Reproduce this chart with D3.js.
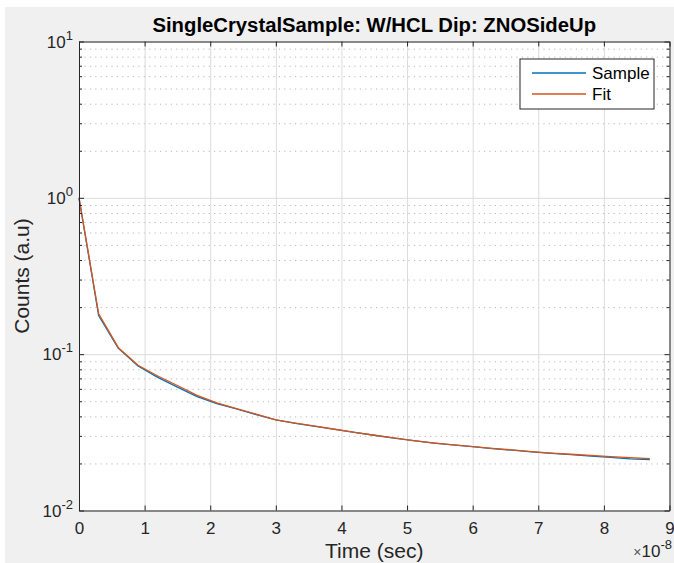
<!DOCTYPE html>
<html>
<head>
<meta charset="utf-8">
<script src="https://cdn.jsdelivr.net/npm/d3@7"></script>
<style>
  html, body { margin: 0; padding: 0; background: #fff; }
  svg { display: block; font-family: "Liberation Sans", Arial, sans-serif; }
</style>
</head>
<body>
<script>
// time in units of 1e-8 s
const time = [0, 0.3, 0.6, 0.9, 1.2, 1.5, 1.8, 2.1, 2.4, 2.7, 3.0, 3.3, 3.6, 3.9, 4.2,
  4.5, 4.8, 5.1, 5.4, 5.7, 6.0, 6.3, 6.6, 6.9, 7.2, 7.5, 7.8, 8.1, 8.4, 8.7];
const sample = [1.0, 0.176, 0.109, 0.084, 0.071, 0.0615, 0.0535, 0.0482, 0.0446, 0.0411,
  0.0380, 0.0361, 0.0345, 0.0330, 0.0316, 0.0303, 0.0290, 0.0280, 0.0270, 0.0263,
  0.0256, 0.0249, 0.0243, 0.0237, 0.0232, 0.0228, 0.0223, 0.0219, 0.0214, 0.0212];
const fit = [1.0, 0.181, 0.110, 0.085, 0.0725, 0.063, 0.0545, 0.0488, 0.0449, 0.0413,
  0.0380, 0.0362, 0.0346, 0.0331, 0.0316, 0.0303, 0.0291, 0.0280, 0.0271, 0.0263,
  0.0256, 0.0250, 0.0244, 0.0238, 0.0233, 0.0229, 0.0225, 0.0221, 0.0218, 0.0215];
const xTicks = [0, 1, 2, 3, 4, 5, 6, 7, 8, 9];
const yDecades = [1e-2, 1e-1, 1e0, 1e1];
const yLabels = ["-2", "-1", "0", "1"];
const seriesNames = ["Sample", "Fit"];
const seriesColors = ["#0072BD", "#D95319"];

const W = 674, H = 563;
const margin = { top: 41.5, right: 4.5, bottom: 52.5, left: 79 };
const iw = W - margin.left - margin.right;
const ih = H - margin.top - margin.bottom;
const ink = "#262626";
const tickFont = 17, labelFont = 21;

const svg = d3.select("body").append("svg")
  .attr("width", W).attr("height", H);

// figure background
svg.append("rect").attr("x", 5).attr("y", 7).attr("width", W - 5).attr("height", H - 7)
  .attr("fill", "#f0f0f0");

const x = d3.scaleLinear().domain([0, 9]).range([0, iw]);
const y = d3.scaleLog().domain([1e-2, 1e1]).range([ih, 0]);

const minorY = [];
for (let d = 0; d < 3; d++) {
  for (let k = 2; k <= 9; k++) minorY.push(k * yDecades[d]);
}

const g = svg.append("g").attr("transform", `translate(${margin.left},${margin.top})`);
g.append("rect").attr("width", iw).attr("height", ih).attr("fill", "#fff");

// minor grid (dotted)
g.append("g").attr("class", "grid-minor")
  .call(d3.axisLeft(y).tickValues(minorY).tickSize(-iw).tickFormat(""))
  .call(s => s.select(".domain").remove())
  .call(s => s.selectAll("line").attr("stroke", "#b8b8b8").attr("stroke-dasharray", "1.2,4.2"));

// major grid
g.append("g")
  .call(d3.axisLeft(y).tickValues(yDecades).tickSize(-iw).tickFormat(""))
  .call(s => s.select(".domain").remove())
  .call(s => s.selectAll("line").attr("stroke", "#dcdcdc"));
g.append("g")
  .call(d3.axisBottom(x).tickValues(xTicks).tickSize(ih).tickFormat(""))
  .call(s => s.select(".domain").remove())
  .call(s => s.selectAll("line").attr("stroke", "#dcdcdc"));

// series
const line = d3.line().x((d, i) => x(time[i])).y(d => y(d));
[sample, fit].forEach((vals, k) => {
  g.append("path").datum(vals)
    .attr("fill", "none")
    .attr("stroke", seriesColors[k])
    .attr("stroke-width", 1.3)
    .attr("stroke-linejoin", "round")
    .attr("d", line);
});

// axes with inward ticks
const styleAxis = s => {
  s.select(".domain").attr("stroke", ink);
  s.selectAll("line").attr("stroke", ink);
};
g.append("g").attr("transform", `translate(0,${ih})`)
  .call(d3.axisBottom(x).tickValues(xTicks).tickSize(-5).tickSizeOuter(0).tickPadding(11))
  .call(styleAxis)
  .call(s => s.selectAll("text").attr("fill", ink).attr("font-size", tickFont)
    .attr("font-family", "Liberation Sans, Arial, sans-serif"));
g.append("g")
  .call(d3.axisTop(x).tickValues(xTicks).tickSize(-5).tickSizeOuter(0).tickFormat(""))
  .call(styleAxis);
g.append("g")
  .call(d3.axisLeft(y).tickValues(yDecades).tickSize(-5).tickSizeOuter(0).tickFormat(""))
  .call(styleAxis);
g.append("g")
  .call(d3.axisLeft(y).tickValues(minorY).tickSize(-3).tickSizeOuter(0).tickFormat(""))
  .call(s => s.select(".domain").remove())
  .call(s => s.selectAll("line").attr("stroke", ink));
g.append("g").attr("transform", `translate(${iw},0)`)
  .call(d3.axisRight(y).tickValues(yDecades).tickSize(-5).tickSizeOuter(0).tickFormat(""))
  .call(styleAxis);
g.append("g").attr("transform", `translate(${iw},0)`)
  .call(d3.axisRight(y).tickValues(minorY).tickSize(-3).tickSizeOuter(0).tickFormat(""))
  .call(s => s.select(".domain").remove())
  .call(s => s.selectAll("line").attr("stroke", ink));

// y tick labels 10^n
yDecades.forEach((v, i) => {
  const t = g.append("text")
    .attr("x", -6).attr("y", y(v) + 6)
    .attr("text-anchor", "end")
    .attr("fill", ink).attr("font-size", tickFont);
  t.append("tspan").text("10");
  t.append("tspan").attr("dy", -8).attr("font-size", 13).text(yLabels[i]);
});

// exponent for x axis
const ex = svg.append("text")
  .attr("x", W - 2).attr("y", H - 6)
  .attr("text-anchor", "end").attr("fill", ink).attr("font-size", tickFont);
ex.append("tspan").attr("font-size", 14).attr("fill", "#555").text("\u00d7");
ex.append("tspan").text("10");
ex.append("tspan").attr("dy", -8).attr("font-size", 13).text("-8");

// title and labels
svg.append("text")
  .attr("x", margin.left + iw / 2).attr("y", 32)
  .attr("text-anchor", "middle").attr("font-weight", "bold")
  .attr("font-size", 20.3).attr("fill", "#000")
  .text("SingleCrystalSample: W/HCL Dip: ZNOSideUp");
svg.append("text")
  .attr("x", margin.left + iw / 2).attr("y", 558)
  .attr("text-anchor", "middle").attr("font-size", labelFont).attr("fill", ink)
  .text("Time (sec)");
svg.append("text")
  .attr("transform", `translate(29,276) rotate(-90)`)
  .attr("text-anchor", "middle").attr("font-size", labelFont).attr("fill", ink)
  .text("Counts (a.u)");

// legend
const lg = svg.append("g").attr("transform", "translate(520,59)");
lg.append("rect").attr("width", 134).attr("height", 50)
  .attr("fill", "#fff").attr("stroke", ink);
seriesNames.forEach((name, i) => {
  const yy = 14 + i * 21;
  lg.append("line").attr("x1", 12).attr("x2", 66).attr("y1", yy).attr("y2", yy)
    .attr("stroke", seriesColors[i]).attr("stroke-width", 1.3);
  lg.append("text").attr("x", 72).attr("y", yy + 6)
    .attr("font-size", tickFont).attr("fill", "#000").text(name);
});
</script>
</body>
</html>
